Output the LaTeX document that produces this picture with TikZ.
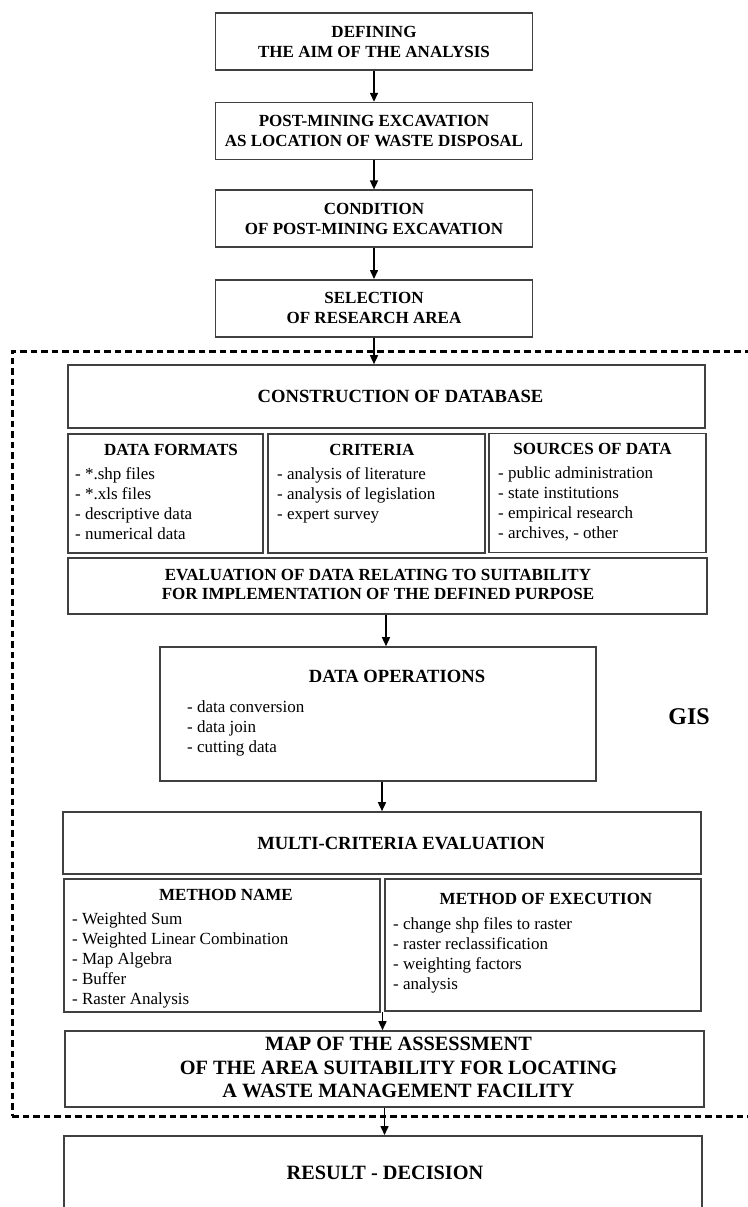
\documentclass[tikz,border=0pt]{standalone}
\usepackage{fontspec}
\setmainfont{Liberation Serif}
\usetikzlibrary{positioning,arrows.meta,calc}

\newcommand{\txtsmall}{\fontsize{17}{20}\selectfont}
\newcommand{\txtmid}{\fontsize{18.6}{22}\selectfont}
\newcommand{\txtbig}{\fontsize{20.3}{23.5}\selectfont}

\tikzset{
  box/.style={draw=black!75, line width=1.6pt, inner sep=0pt, align=center, font=\txtsmall\bfseries},
  head/.style={inner sep=0pt, font=\txtsmall\bfseries},
  list/.style={inner sep=0pt, align=left, anchor=base west, font=\txtsmall},
  flow/.style={-{Triangle[length=9pt,width=8pt]}, line width=1.5pt},
  gisframe/.style={draw, line width=2.6pt, dash pattern=on 6.5pt off 4pt},
}

\begin{document}
\begin{tikzpicture}[x=1pt, y=-1pt]
        \useasboundingbox (0,0) rectangle (747,1207);

        \node[gisframe, anchor=north west, minimum width=737.8pt, minimum height=765pt] (gis) at (11,350) {};
        \node[inner sep=0pt, font=\fontsize{24}{28}\selectfont\bfseries] (gislabel) at (689,717) {GIS};

        % steps before the database
        \node[box, minimum width=317pt, minimum height=57pt] (aim) at (374,41.5) {DEFINING\\THE AIM OF THE ANALYSIS};
        \node[box, minimum width=317pt, minimum height=57pt, below=31pt of aim] (excav) {POST-MINING EXCAVATION\\AS LOCATION OF WASTE DISPOSAL};
        \node[box, minimum width=317pt, minimum height=57pt, below=29pt of excav] (cond) {CONDITION\\OF POST-MINING EXCAVATION};
        \node[box, minimum width=317pt, minimum height=57pt, below=31pt of cond] (select) {SELECTION\\OF RESEARCH AREA};

        % database (list nodes sit on their last line)
        \node[box, minimum width=637pt, minimum height=63pt] (constr) at (386.5,396.5) {};
        \node[head, font=\txtmid\bfseries] (constrtext) at ([xshift=14pt]constr.center) {CONSTRUCTION OF DATABASE};

        \node[box, minimum width=195pt, minimum height=119pt] (formats) at (165.5,493.5) {};
        \node[head, anchor=base] (formatshead) at (171,455) {DATA FORMATS};
        \node[list] (formatslist) at (75,539) {- *.shp files\\- *.xls files\\- descriptive data\\- numerical data};

        \node[box, minimum width=217pt, minimum height=119pt] (crit) at (376.5,493.5) {};
        \node[head, anchor=base] (crithead) at (372,455) {CRITERIA};
        \node[list] (critlist) at (277,519) {- analysis of literature\\- analysis of legislation\\- expert survey};

        \node[box, minimum width=217pt, minimum height=119pt] (sources) at (597.5,493) {};
        \node[head, anchor=base] (sourceshead) at (592.5,454) {SOURCES OF DATA};
        \node[list] (sourceslist) at (498,538) {- public administration\\- state institutions\\- empirical research\\- archives, - other};

        \node[box, minimum width=639pt, minimum height=56pt] (eval) at (387.5,586) {};
        \node[head, align=center, font=\fontsize{17}{19}\selectfont\bfseries] (evaltext) at ([xshift=-9.5pt,yshift=1.5pt]eval.center) {EVALUATION OF DATA RELATING TO SUITABILITY\\FOR IMPLEMENTATION OF THE DEFINED PURPOSE};

        % operations
        \node[box, minimum width=436pt, minimum height=134pt] (dataops) at (378,714) {};
        \node[head, anchor=base, font=\txtmid\bfseries] (dataopshead) at (397,682) {DATA OPERATIONS};
        \node[list] (dataopslist) at (187,752) {- data conversion\\- data join\\- cutting data};

        % evaluation
        \node[box, minimum width=638pt, minimum height=62pt] (multi) at (382,843) {};
        \node[head, font=\txtmid\bfseries] (multitext) at ([xshift=19pt]multi.center) {MULTI-CRITERIA EVALUATION};

        \node[box, minimum width=316pt, minimum height=133pt] (mname) at (222,945.5) {};
        \node[head, anchor=base] (mnamehead) at (226,900) {METHOD NAME};
        \node[list] (mnamelist) at (72,1004) {- Weighted Sum\\- Weighted Linear Combination\\- Map Algebra\\- Buffer\\- Raster Analysis};

        \node[box, minimum width=316pt, minimum height=132pt] (mexec) at (543,945) {};
        \node[head, anchor=base] (mexechead) at (546,904) {METHOD OF EXECUTION};
        \node[list] (mexeclist) at (393,989) {- change shp files to raster\\- raster reclassification\\- weighting factors\\- analysis};

        \coordinate (mgap) at ($(mname.south east)!0.5!(mexec.south west)$);

        \node[box, minimum width=639pt, minimum height=76pt] (map) at (384.5,1069) {};
        \node[head, align=center, font=\txtbig\bfseries] (maptext) at ([xshift=14pt,yshift=1.5pt]map.center) {MAP OF THE ASSESSMENT\\OF THE AREA SUITABILITY FOR LOCATING\\A WASTE MANAGEMENT FACILITY};

        \node[box, anchor=north, minimum width=638pt, minimum height=110pt] (result) at (383,1135) {};
        \node[head, font=\txtbig\bfseries] (resulttext) at (385,1173) {RESULT - DECISION};

        \draw[flow] (aim) -- (excav);
        \draw[flow] (excav) -- (cond);
        \draw[flow] (cond) -- (select);
        \draw[flow] (select.south) -- (select.south |- constr.north);
        \draw[flow] ([xshift=-1.5pt]eval.south) -- ([xshift=-1.5pt]eval.south |- dataops.north);
        \draw[flow] (multi.north |- dataops.south) -- (multi.north);
        \draw[flow] (mgap) -- (mgap |- map.north);
        \draw[flow] (map.south) -- (map.south |- result.north);
\end{tikzpicture}
\end{document}
